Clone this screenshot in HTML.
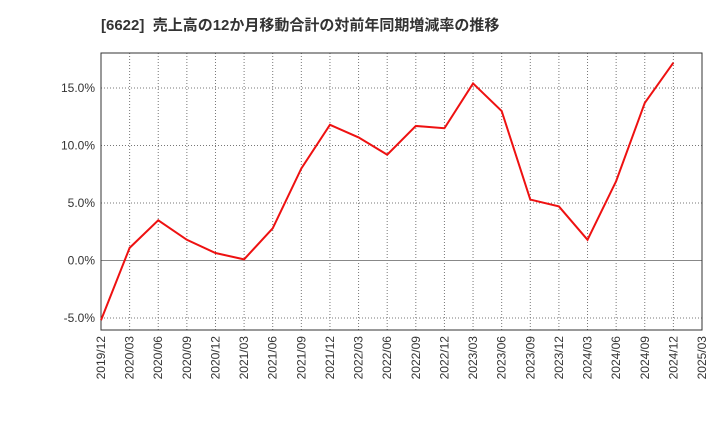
<!DOCTYPE html>
<html><head><meta charset="utf-8"><style>
body{margin:0;background:#fff;}
svg text{font-family:"Liberation Sans","Noto Sans CJK JP",sans-serif;}
</style></head><body>
<svg id="c" width="720" height="440" xmlns="http://www.w3.org/2000/svg">
<text x="101" y="30" font-size="15" font-weight="bold" fill="#333">[6622]&#160; 売上高の12か月移動合計の対前年同期増減率の推移</text>
<g id="grid"></g><g id="axes"></g><g id="series"></g>
</svg>
<script>
const categories=["2019/12","2020/03","2020/06","2020/09","2020/12","2021/03","2021/06","2021/09","2021/12","2022/03","2022/06","2022/09","2022/12","2023/03","2023/06","2023/09","2023/12","2024/03","2024/06","2024/09","2024/12","2025/03"];
const values=[-5.2,1.1,3.5,1.8,0.65,0.1,2.8,8.0,11.8,10.7,9.2,11.7,11.5,15.4,13.0,5.3,4.7,1.8,6.9,13.7,17.2];
const yTicks=[-5,0,5,10,15];
const L=101,R=702,T=53,B=330;
const x=i=>L+(R-L)*i/(categories.length-1);
const y=v=>260.5-v*11.5;
const ns="http://www.w3.org/2000/svg";
function mk(t,a,p){const e=document.createElementNS(ns,t);for(const k in a)e.setAttribute(k,a[k]);p.appendChild(e);return e;}
const g=document.getElementById('grid'),ax=document.getElementById('axes'),s=document.getElementById('series');
categories.forEach((c,i)=>{
 const l=mk('line',{x1:x(i),x2:x(i),y1:T,y2:B,stroke:'#777','stroke-dasharray':'1,2','stroke-width':1},g);
 
 
 const t=mk('text',{x:0,y:0,'font-size':12,fill:'#333','text-anchor':'end',transform:`translate(${x(i)+4},${B+6}) rotate(-90)`},ax);
 t.textContent=c;
 
 
});
yTicks.forEach(v=>{
 const l=mk('line',{x1:L,x2:R,y1:y(v),y2:y(v),stroke:v===0?'#888':'#777','stroke-dasharray':v===0?'':'1,2','stroke-width':1},g);
 
 
 const t=mk('text',{x:L-6,y:y(v)+4,'font-size':12,fill:'#333','text-anchor':'end'},ax);
 t.textContent=v.toFixed(1)+'%';
 
 
});
const f=mk('rect',{x:L,y:T,width:R-L,height:B-T,fill:'none',stroke:'#333','stroke-width':1},ax);


const p=mk('polyline',{points:values.map((v,i)=>x(i)+','+y(v)).join(' '),fill:'none',stroke:'#ee1111','stroke-width':2},s);


</script>
</body></html>
